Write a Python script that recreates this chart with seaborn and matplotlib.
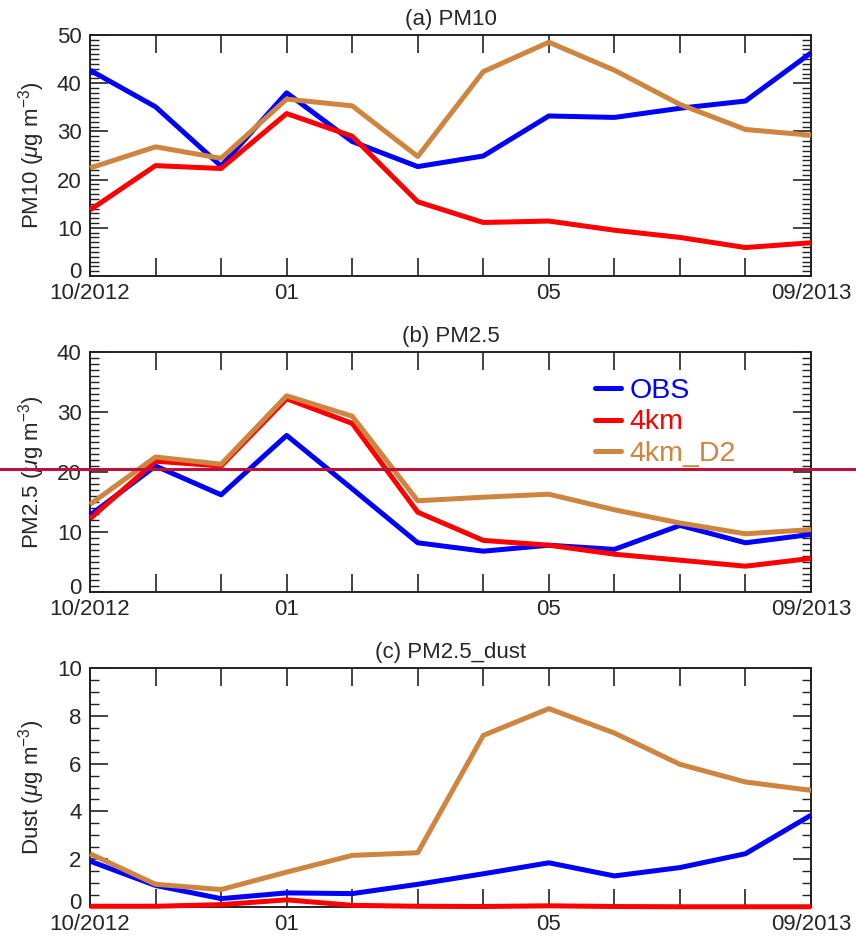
import numpy as np
import pandas as pd
import matplotlib
matplotlib.use("Agg")
import matplotlib.pyplot as plt
from matplotlib.lines import Line2D
from matplotlib.ticker import MultipleLocator, FixedLocator, FuncFormatter
import seaborn as sns

# Monthly means, Oct 2012 - Sep 2013
months = ["10/2012", "11", "12", "01", "02", "03", "04", "05", "06", "07", "08", "09/2013"]
tick_labels = ["10/2012", "", "", "01", "", "", "", "05", "", "", "", "09/2013"]

pm10_obs = [42.7, 35.1, 22.8, 38.0, 27.9, 22.7, 24.9, 33.2, 32.9, 34.8, 36.3, 46.3]
pm10_4km = [13.7, 22.9, 22.3, 33.7, 29.0, 15.4, 11.1, 11.4, 9.5, 8.0, 5.9, 6.9]
pm10_d2 = [22.4, 26.8, 24.4, 36.7, 35.3, 24.8, 42.4, 48.5, 42.7, 35.6, 30.4, 29.2]

pm25_obs = [12.8, 21.0, 16.2, 26.1, 17.2, 8.2, 6.8, 7.8, 7.1, 11.1, 8.2, 9.6]
pm25_4km = [12.2, 21.8, 21.0, 32.2, 28.1, 13.3, 8.6, 7.8, 6.3, 5.3, 4.3, 5.6]
pm25_d2 = [14.6, 22.5, 21.3, 32.7, 29.3, 15.2, 15.8, 16.3, 13.7, 11.5, 9.7, 10.4]

dust_obs = [1.92, 0.90, 0.35, 0.59, 0.56, 0.95, 1.39, 1.85, 1.30, 1.65, 2.23, 3.84]
dust_4km = [0.03, 0.03, 0.10, 0.30, 0.07, 0.03, 0.02, 0.05, 0.02, 0.01, 0.01, 0.01]
dust_d2 = [2.23, 0.95, 0.73, 1.46, 2.16, 2.27, 7.18, 8.30, 7.28, 5.97, 5.23, 4.88]

series_names = ["OBS", "4km", "4km_D2"]
series_colors = ["#0000FF", "#FF0000", "#CD853F"]

panels = [
    dict(title="(a) PM10", ylabel=r"PM10 ($\mu$g m$^{-3}$)", ymax=50, major=10, minor=1,
         data=[pm10_obs, pm10_4km, pm10_d2]),
    dict(title="(b) PM2.5", ylabel=r"PM2.5 ($\mu$g m$^{-3}$)", ymax=40, major=10, minor=1,
         data=[pm25_obs, pm25_4km, pm25_d2]),
    dict(title="(c) PM2.5_dust", ylabel=r"Dust ($\mu$g m$^{-3}$)", ymax=10, major=2, minor=0.5,
         data=[dust_obs, dust_4km, dust_d2]),
]

sns.set_theme(style="ticks")
plt.rcParams["font.family"] = ["Liberation Sans", "DejaVu Sans"]
plt.rcParams["mathtext.fontset"] = "custom"
plt.rcParams["mathtext.rm"] = "Liberation Sans"
plt.rcParams["mathtext.it"] = "Liberation Sans:italic"
plt.rcParams["mathtext.default"] = "it"

fig = plt.figure(figsize=(8.56, 9.44), dpi=100)
W, H = 856, 944
boxes = [(90, 35, 811, 276), (90, 352, 811, 592), (90, 668, 811, 907)]
FS = 16


def ylab(v, pos):
    # the zero label is drawn separately, lifted clear of the date labels
    return "" if abs(v) < 1e-9 else f"{v:g}"


x = np.arange(len(months))
for p, (l, t, r, b) in zip(panels, boxes):
    ax = fig.add_axes([l / W, (H - b) / H, (r - l) / W, (b - t) / H])
    frames = []
    for name, vals in zip(series_names, p["data"]):
        frames.append(pd.DataFrame({"month": x, "value": vals, "run": name}))
    df = pd.concat(frames, ignore_index=True)
    sns.lineplot(data=df, x="month", y="value", hue="run", hue_order=series_names,
                 palette=series_colors, linewidth=3.6, ax=ax, legend=False,
                 solid_capstyle="butt", clip_on=False, zorder=3)
    ax.set_xlim(0, len(months) - 1)
    ax.set_ylim(0, p["ymax"])
    ax.xaxis.set_major_locator(FixedLocator(x))
    ax.set_xticklabels(tick_labels)
    ax.yaxis.set_major_locator(MultipleLocator(p["major"]))
    ax.yaxis.set_minor_locator(MultipleLocator(p["minor"]))
    ax.yaxis.set_major_formatter(FuncFormatter(ylab))
    ax.tick_params(axis="both", which="major", direction="in", length=13, width=1.2,
                   color="#222222", labelsize=FS, top=True, right=True)
    ax.tick_params(axis="y", which="minor", direction="in", length=6.5, width=1.0,
                   color="#222222", left=True, right=True)
    ax.tick_params(axis="y", which="major", pad=6)
    ax.tick_params(axis="x", which="major", pad=5)
    for lab in ax.get_yticklabels():
        lab.set_verticalalignment("center_baseline")
    ax.annotate("0", xy=(0, 0), xycoords=("axes fraction", "data"),
                xytext=(-6, 4.5), textcoords="offset points",
                ha="right", va="center_baseline", fontsize=FS, color="#262626")
    for s in ax.spines.values():
        s.set_linewidth(1.4)
        s.set_color("#222222")
    ax.set_xlabel("")
    ax.set_ylabel(p["ylabel"], fontsize=FS, labelpad=7)
    ax.set_title(p["title"], fontsize=FS, pad=7)
    if p["title"].startswith("(b)"):
        handles = [Line2D([], [], color=c, linewidth=3.6) for c in series_colors]
        ax.legend(handles, series_names, loc="upper left",
                  bbox_to_anchor=(0.685, 0.94), frameon=False, fontsize=20.5,
                  handlelength=0.9, handletextpad=0.3, labelspacing=0.2,
                  borderaxespad=0.0, labelcolor="linecolor")

# horizontal marker across the full figure width
fig.add_artist(Line2D([0, 1], [(H - 469) / H, (H - 469) / H], transform=fig.transFigure,
                      color="#C0103A", linewidth=2.2, zorder=10))

fig.savefig("out.png", dpi=100)
